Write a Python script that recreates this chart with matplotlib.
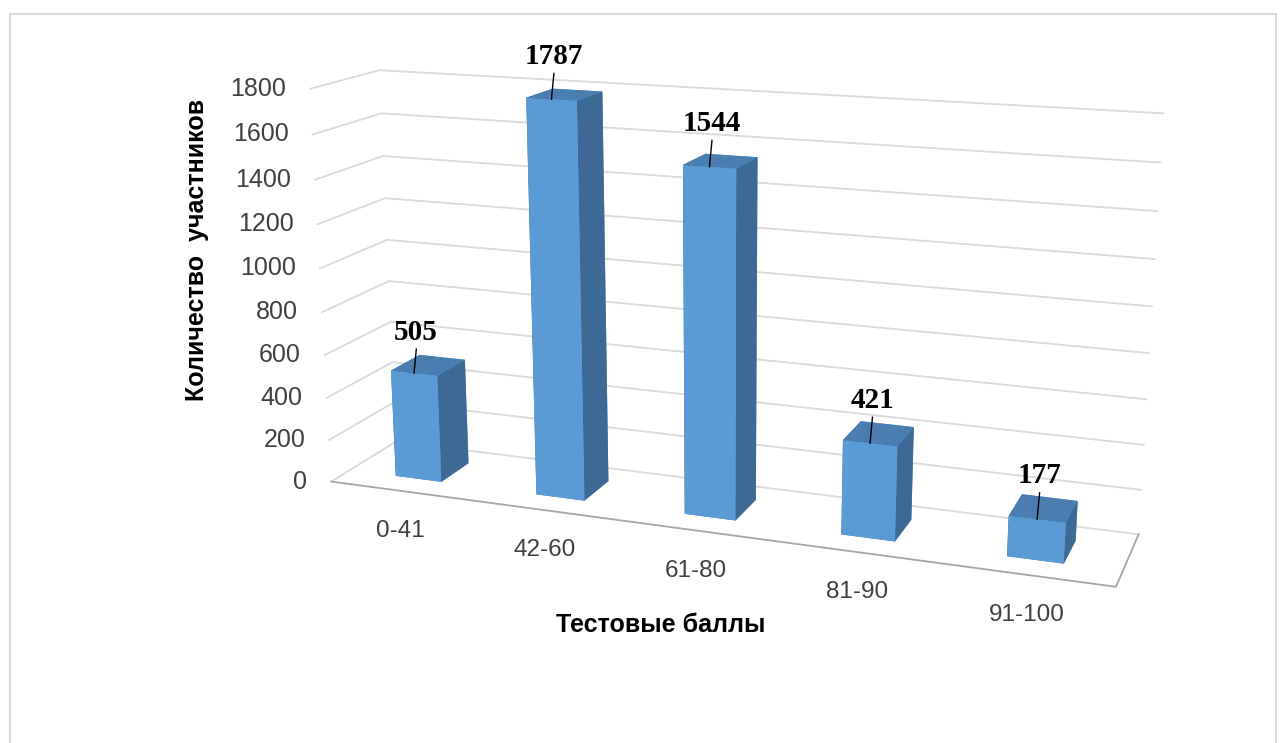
import numpy as np
import matplotlib
matplotlib.use("Agg")
import matplotlib.pyplot as plt
from matplotlib.patches import Rectangle
from mpl_toolkits.mplot3d import proj3d

# data
categories = ["0-41", "42-60", "61-80", "81-90", "91-100"]
values = [505, 1787, 1544, 421, 177]
yticks = [0, 200, 400, 600, 800, 1000, 1200, 1400, 1600, 1800]

# colours
c_front = "#5B9BD5"
c_side = "#3D6A94"
c_top = "#4A7DB0"
c_grid = "#D9D9D9"
c_floor = "#A6A6A6"
c_text = "#404040"

fig = plt.figure(figsize=(12.85, 7.43), dpi=100)
fig.patches.append(Rectangle((10 / 1285, -0.1), 1266 / 1285, 1.1 - 14 / 743,
                             transform=fig.transFigure, fill=False,
                             edgecolor="#D9D9D9", linewidth=1.5))

ax = fig.add_axes([0.051, -0.048, 1.0, 1.23], projection="3d", computed_zorder=False)
ax.set_axis_off()
ax.view_init(elev=15, azim=-70)
ax.set_proj_type("persp", focal_length=0.4)
ax.set_box_aspect((8, 1.35, 4.05), zoom=1.0)

x0, x1 = -0.5, len(categories) - 0.5
y0, y1 = 0.0, 1.0
ax.set_xlim(x0, x1)
ax.set_ylim(y0, y1)
ax.set_zlim(0, 1800)


def to2d(x, y, z):
    xp, yp, _ = proj3d.proj_transform(x, y, z, ax.get_proj())
    return xp, yp


# walls: gridlines on left and back wall
for t in yticks:
    ax.plot([x0, x0, x1], [y0, y1, y1], [t, t, t], color=c_grid, lw=1.3, zorder=1)
    ax.annotate(str(t), xy=to2d(x0, y0, t), xycoords="data",
                xytext=(-24, 0), textcoords="offset pixels",
                ha="right", va="center", fontsize=18, color=c_text,
                family="Liberation Sans", zorder=5)

# floor outline
ax.plot([x0, x1, x1], [y0, y0, y1], [0, 0, 0], color=c_floor, lw=1.3, zorder=1)

# bars
xs = np.arange(len(categories))
bw, bd, by = 0.33, 0.45, 0.28
face_colors = []
for _ in values:
    face_colors += [c_top, c_top, c_front, c_front, c_side, c_side]
ax.bar3d(xs - bw / 2, np.full(len(xs), by), np.zeros(len(xs)),
         bw, bd, values, color=face_colors, shade=False, zorder=2)

# data labels with leader lines from the front top edge
for x, v in zip(xs, values):
    ax.plot([x, x], [by, by + 0.05], [v, v + 105], color="black", lw=1.0, zorder=4)
    ax.text2D(*to2d(x, by + 0.05, v + 120), str(v), transform=ax.transData,
              ha="center", va="bottom", fontsize=21, fontweight="bold",
              family="Liberation Serif", zorder=5)

# category labels
for x, c in zip(xs, categories):
    ax.annotate(c, xy=to2d(x, y0, 0), xycoords="data",
                xytext=(0, -40), textcoords="offset pixels",
                ha="center", va="center", fontsize=17.5, color=c_text,
                family="Liberation Sans", zorder=5)

fig.text(0.153, 0.664, "Количество  участников", rotation=90, ha="center",
         va="center", fontsize=18, fontweight="bold", family="Liberation Sans")
fig.text(0.514, 0.159, "Тестовые баллы", ha="center", va="center",
         fontsize=18, fontweight="bold", family="Liberation Sans")

fig.savefig("out.png", dpi=100)
